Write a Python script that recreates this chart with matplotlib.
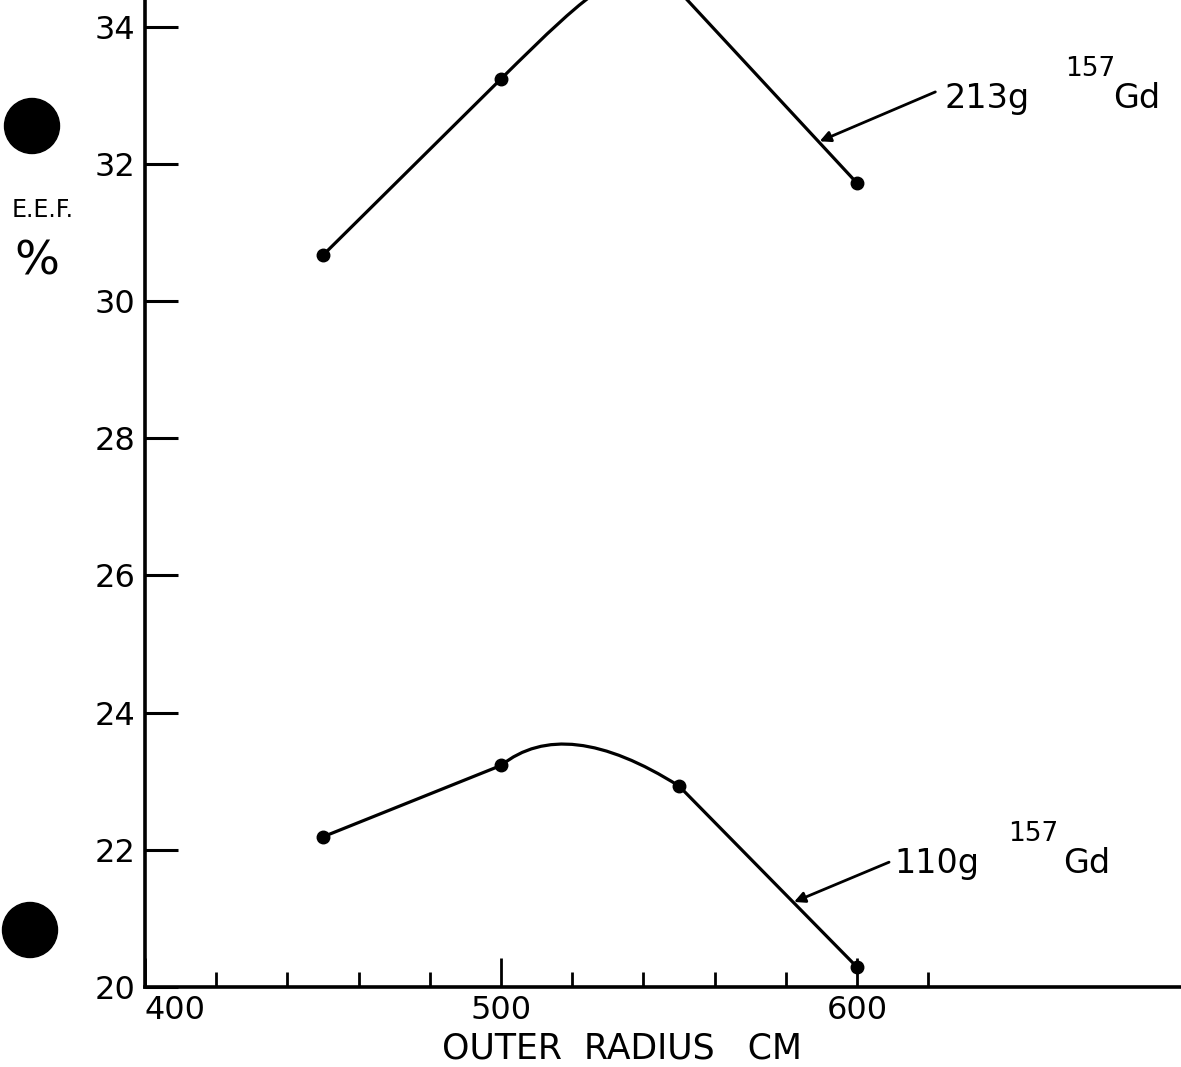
import matplotlib.pyplot as plt
from matplotlib.patches import Ellipse, PathPatch
from matplotlib.path import Path

# measured points (outer radius in cm, E.E.F. in %)
radius = [450, 500, 550, 600]
eef_110g = [22.19, 23.23, 22.93, 20.29]
eef_213g = [30.67, 33.24, 34.52, 31.72]   # the 550 point sits just above the cropped top

# control points of the hand-drawn hump between 500 and 550
hump_110g = [(518, 23.98)]
hump_213g = [(525, 34.52), (538, 35.19)]

y_ticks = [20, 22, 24, 26, 28, 30, 32, 34]
x_major = [400, 500, 600]
x_minor = [420, 440, 460, 480, 520, 540, 560, 580, 620]


def curve_path(x, y, ctrl):
    # straight 450-500, smooth hump 500-550, straight 550-600
    bez = Path.CURVE3 if len(ctrl) == 1 else Path.CURVE4
    verts = [(x[0], y[0]), (x[1], y[1])] + ctrl + [(x[2], y[2]), (x[3], y[3])]
    codes = [Path.MOVETO, Path.LINETO] + [bez] * (len(ctrl) + 1) + [Path.LINETO]
    return Path(verts, codes)


def main():
    fig = plt.figure(figsize=(11.81, 10.67), dpi=100)
    ax = fig.add_axes([145 / 1181, 80 / 1067, 1 - 145 / 1181, 987 / 1067])

    for vals, ctrl in [(eef_213g, hump_213g), (eef_110g, hump_110g)]:
        ax.add_patch(PathPatch(curve_path(radius, vals, ctrl), fill=False,
                               lw=2.3, edgecolor='black', capstyle='round'))
        ax.plot(radius, vals, ls='none', marker='o', ms=9, color='black',
                zorder=5)

    ax.set_xlim(400, 691)
    ax.set_ylim(20, 34.39)

    ax.set_yticks(y_ticks)
    ax.set_xticks(x_major)
    ax.set_xticks(x_minor, minor=True)
    ax.tick_params(axis='y', direction='in', length=24, width=2.2, pad=7,
                   labelsize=23)
    ax.tick_params(axis='x', which='major', direction='in', length=21, width=2,
                   pad=6, labelsize=23)
    ax.tick_params(axis='x', which='minor', direction='in', length=11, width=2)
    ax.get_xticklabels()[0].set_ha('left')

    for side in ['top', 'right']:
        ax.spines[side].set_visible(False)
    for side in ['left', 'bottom']:
        ax.spines[side].set_linewidth(2.6)

    ax.set_xlabel('OUTER  RADIUS   CM', fontsize=25)
    ax.xaxis.set_label_coords(0.46, -0.045, transform=ax.transAxes)
    ax.xaxis.label.set_va('top')

    # leader lines with labels
    arrow = dict(arrowstyle='-|>', lw=2, color='black', mutation_scale=16,
                 shrinkA=0, shrinkB=0)
    ax.annotate('', xy=(589.5, 32.33), xytext=(622, 33.05), arrowprops=arrow)
    ax.annotate('', xy=(582.3, 21.24), xytext=(609, 21.82), arrowprops=arrow)

    ax.text(624.5, 32.95, '213g', fontsize=24, va='center', ha='left')
    ax.text(658.5, 33.38, '157', fontsize=19, va='center', ha='left')
    ax.text(672, 32.95, 'Gd', fontsize=24, va='center', ha='left')

    ax.text(610.5, 21.80, '110g', fontsize=24, va='center', ha='left')
    ax.text(642.5, 22.23, '157', fontsize=19, va='center', ha='left')
    ax.text(658, 21.80, 'Gd', fontsize=24, va='center', ha='left')

    # y axis label, written beside the axis
    fig.text(12 / 1181, 1 - 210 / 1067, 'E.E.F.', fontsize=17, va='center',
             ha='left')
    fig.text(14 / 1181, 1 - 262 / 1067, '%', fontsize=34, va='center',
             ha='left')

    # punch holes of the scanned page
    for cx, cy in [(32, 126), (30, 930)]:
        fig.patches.append(Ellipse((cx / 1181, 1 - cy / 1067), 55 / 1181,
                                   55 / 1067, transform=fig.transFigure,
                                   color='black'))

    fig.savefig('out.png', dpi=100)


if __name__ == '__main__':
    main()
